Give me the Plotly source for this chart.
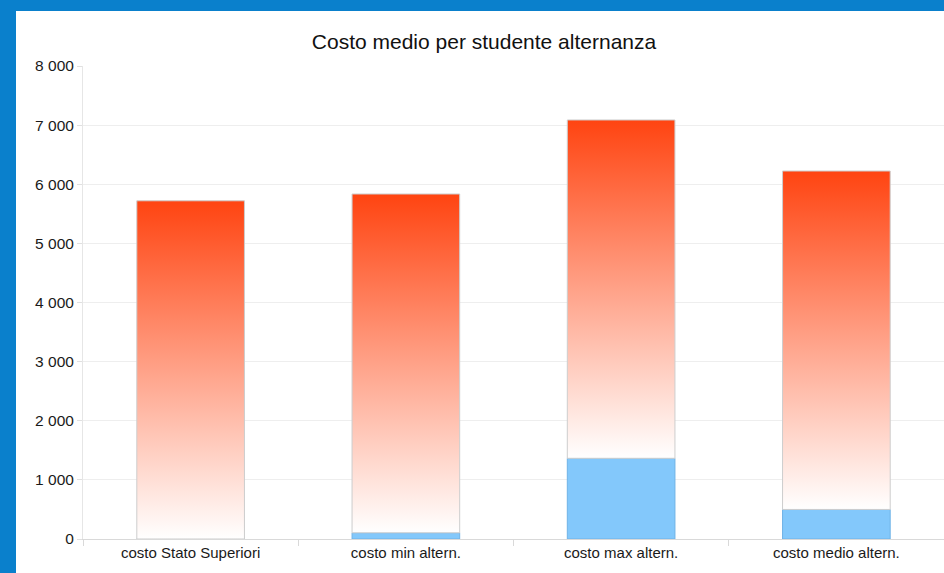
import plotly.graph_objects as go

categories = ["costo Stato Superiori", "costo min altern.", "costo max altern.", "costo medio altern."]
costo_base = [5720, 5730, 5722, 5724]
costo_alternanza = [0, 105, 1365, 500]
y_ticks = [0, 1000, 2000, 3000, 4000, 5000, 6000, 7000, 8000]

BAR_W = 0.5
pos = list(range(len(categories)))

fig = go.Figure()

fig.add_trace(go.Bar(
    x=pos, y=costo_alternanza, width=BAR_W,
    marker=dict(color="#83C8FB", line=dict(color="#6FB2E6", width=1)),
    showlegend=False, hoverinfo="skip",
))

for i, (b, a) in enumerate(zip(costo_base, costo_alternanza)):
    lo, hi = a, a + b
    fig.add_trace(go.Scatter(
        x=[i - BAR_W / 2, i + BAR_W / 2, i + BAR_W / 2, i - BAR_W / 2, i - BAR_W / 2],
        y=[lo, lo, hi, hi, lo],
        mode="lines", fill="toself",
        line=dict(color="#CDCDCD", width=1),
        fillgradient=dict(type="vertical", start=lo, stop=hi,
                          colorscale=[[0, "#FFFFFF"], [1, "#FF4411"]]),
        showlegend=False, hoverinfo="skip",
    ))

fig.update_layout(
    width=944, height=573,
    margin=dict(l=83, r=0, t=66, b=34),
    paper_bgcolor="#0A80CC",
    plot_bgcolor="#FFFFFF",
    separators=", ",
    font=dict(family="Liberation Sans, Arial, sans-serif", size=15, color="#1a1a1a"),
    title=dict(text="Costo medio per studente alternanza", x=484 / 944, xanchor="center",
               y=1 - 42 / 573, yanchor="middle",
               font=dict(size=21, color="#111111")),
    shapes=[dict(type="rect", xref="paper", yref="paper",
                 x0=(16 - 83) / 861, x1=1.05, y0=-0.2, y1=(539 - 11) / 473,
                 fillcolor="#FFFFFF", line=dict(width=0), layer="below")],
    bargap=0.5,
)

fig.update_xaxes(
    range=[-0.5, len(categories) - 0.5],
    tickmode="array", tickvals=pos, ticktext=categories,
    ticks="", showgrid=False, zeroline=False,
    showline=True, linecolor="#D9D9D9", linewidth=1,
    tickfont=dict(size=15),
    minor=dict(tickmode="array", tickvals=[-0.5, 0.5, 1.5, 2.5, 3.5],
               ticks="outside", ticklen=6, tickcolor="#D9D9D9", showgrid=False),
)
fig.update_yaxes(
    range=[0, 8000], tickmode="array", tickvals=y_ticks, tickformat=",d",
    showgrid=True, gridcolor="#EEEEEE", gridwidth=1,
    zeroline=False, showline=True, linecolor="#E6E6E6",
    ticks="outside", ticklen=5, tickcolor="#E0E0E0",
    tickfont=dict(size=15.5),
)

fig.write_html("out.html", config={"displayModeBar": False},
               post_script="document.body.style.margin='0';")
